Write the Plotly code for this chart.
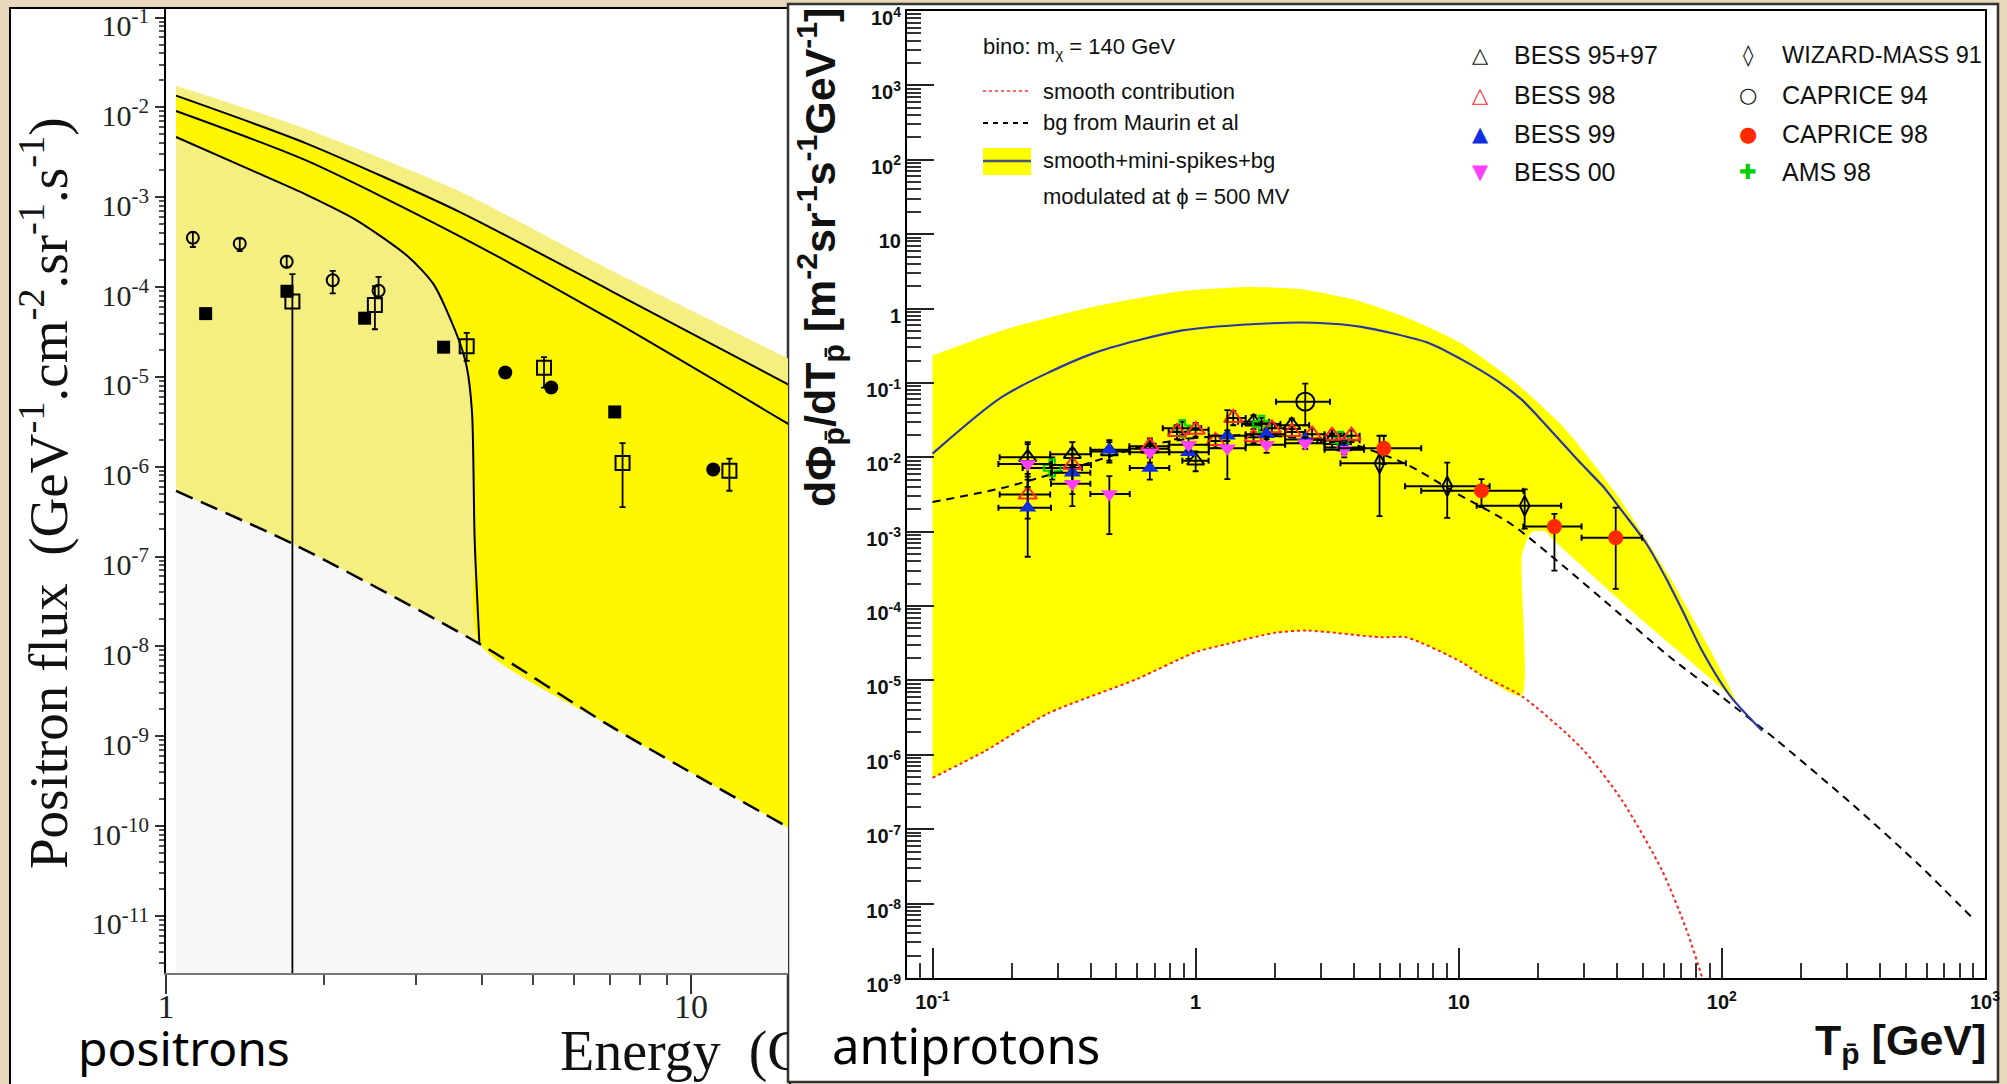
import plotly.graph_objects as go

W, H = 2007, 1084


def px(x):
    return x / W


def py(y):
    return 1 - y / H


# ================= POSITRONS (left panel) =================
pos_top_E = [1.045, 1.849, 3.614, 7.079, 15.5]
pos_top_F = [1.74e-2, 5.75e-3, 1.17e-3, 1.51e-4, 1.55e-5]
pos_l1_E = [1.045, 1.849, 3.614, 7.079, 15.5]
pos_l1_F = [1.35e-2, 3.98e-3, 6.92e-4, 8.91e-5, 7.94e-6]
pos_l2_E = [1.045, 1.849, 3.614, 7.079, 15.5]
pos_l2_F = [9.12e-3, 2.57e-3, 3.72e-4, 4.27e-5, 2.88e-6]
pos_l3_E = [1.045, 1.479, 1.849, 2.312, 2.891, 3.236, 3.614, 3.741, 3.828, 3.873, 3.954]
pos_l3_F = [4.68e-3, 1.91e-3, 1.07e-3, 5.5e-4, 2.19e-4, 1.07e-4, 2.57e-5, 1.29e-5, 4.07e-6, 1.55e-7, 1.1e-8]
pos_bg_E = [1.045, 1.746, 3.954, 7.079, 15.5]
pos_bg_F = [5.37e-7, 1.38e-7, 1.07e-8, 1.26e-9, 9.33e-11]
POS_FLOOR = 1e-12

# data points
pos_oc_E = [1.125, 1.382, 1.698, 2.078, 2.541]
pos_oc_F = [3.53e-4, 3.04e-4, 1.91e-4, 1.19e-4, 9.1e-5]
pos_oc_Fhi = [4.07e-4, 3.47e-4, 2.19e-4, 1.51e-4, 1.30e-4]
pos_oc_Flo = [2.79e-4, 2.51e-4, 1.66e-4, 8.5e-5, 7.5e-5]

pos_fs_E = [1.19, 1.70, 2.39, 3.38, 7.16]
pos_fs_F = [5.06e-5, 8.97e-5, 4.5e-5, 2.14e-5, 4.07e-6]
pos_fc_E = [4.43, 5.42, 11.03]
pos_fc_F = [1.12e-5, 7.6e-6, 9.3e-7]

pos_os_E = [1.741, 2.50, 3.74, 5.25, 7.41, 11.84]
pos_os_F = [6.9e-5, 6.3e-5, 2.19e-5, 1.26e-5, 1.1e-6, 9.0e-7]
pos_os_Fhi = [1.39e-4, 1.02e-4, 3.09e-5, 1.66e-5, 1.83e-6, 1.23e-6]
pos_os_Flo = [1e-13, 3.39e-5, 1.51e-5, 7.6e-6, 3.55e-7, 5.4e-7]

pos_ytick_vals = [1e-1, 1e-2, 1e-3, 1e-4, 1e-5, 1e-6, 1e-7, 1e-8, 1e-9, 1e-10, 1e-11]
pos_ytick_text = ["10<sup>-%d</sup>" % k for k in range(1, 12)]
pos_xtick_vals = [1, 10]
pos_xtick_text = ["1", "10"]

# ================= ANTIPROTONS (right panel) =================
ap_band_top_T = [0.1, 0.185, 0.405, 0.889, 1.585, 2.512, 3.981, 6.31, 10.0, 15.85, 25.12, 39.81, 63.1, 89.1, 107.2, 115.3]
ap_band_top_F = [0.234, 0.513, 1.047, 1.72, 1.95, 1.82, 1.32, 0.76, 0.355, 0.112, 2.5e-2, 3.16e-3, 2.5e-4, 2.8e-5, 7.9e-6, 4.5e-6]
ap_band_bot_T = [17.4, 19.0, 21.4, 22.9, 49.7, 107.4, 115.3]
ap_band_bot_F = [5.0e-4, 1.0e-3, 1.0e-3, 7.8e-4, 6.5e-5, 6.2e-6, 4.5e-6]

ap_smooth_T = [0.1, 0.158, 0.274, 0.6, 1.0, 1.315, 2.0, 2.66, 5.06, 6.31, 10.2, 12.2, 17.3, 29.3, 41.7, 59.2, 73.1, 84.1, 89.1]
ap_smooth_F = [4.9e-7, 1.12e-6, 3.58e-6, 1.05e-5, 2.4e-5, 3.09e-5, 4.37e-5, 4.68e-5, 3.8e-5, 3.8e-5, 1.78e-5, 1.17e-5, 6.2e-6, 1.23e-6, 2.45e-7, 2.8e-8, 4.6e-9, 1.02e-9, 5e-10]

ap_bg_T = [0.1, 0.186, 0.275, 0.398, 0.631, 1.0, 1.585, 2.512, 3.981, 6.31, 10.0, 15.85, 25.12, 39.81, 63.1, 100.0, 158.5, 316.2, 562.3, 912.0]
ap_bg_F = [2.5e-3, 3.9e-3, 5.75e-3, 8.5e-3, 1.41e-2, 1.82e-2, 2.0e-2, 1.82e-2, 1.48e-2, 8.1e-3, 3.16e-3, 1.26e-3, 3.4e-4, 8.5e-5, 2.1e-5, 6.0e-6, 1.66e-6, 2.1e-7, 3.3e-8, 6.0e-9]

ap_tot_T = [0.1, 0.185, 0.405, 0.889, 1.945, 2.818, 4.266, 7.674, 10.2, 14.1, 17.3, 20.0, 29.3, 35.5, 41.7, 51.4, 61.2, 70.8, 84.1, 107.4, 142.2]
ap_tot_F = [1.12e-2, 6.6e-2, 0.248, 0.508, 0.635, 0.645, 0.568, 0.345, 0.209, 0.105, 6.0e-2, 3.55e-2, 8.1e-3, 3.98e-3, 1.9e-3, 7.1e-4, 2.4e-4, 8.7e-5, 2.5e-5, 6.2e-6, 2.1e-6]

BESS_T = [0.23, 0.34, 0.47, 0.67, 0.94, 1.32, 1.86, 2.61, 3.67]
BESS_T_lo = [0.178, 0.282, 0.398, 0.562, 0.794, 1.122, 1.549, 2.188, 3.09]
BESS_T_hi = [0.282, 0.398, 0.562, 0.794, 1.122, 1.549, 2.188, 3.09, 4.365]

b99_F = [2.1e-3, 6.2e-3, 1.26e-2, 7.2e-3, 1.17e-2, 1.95e-2, 2.04e-2, 1.74e-2, 1.35e-2]
b99_Fhi = [5.0e-3, 1.1e-2, 1.7e-2, 1.0e-2, 1.45e-2, 2.3e-2, 2.4e-2, 2.05e-2, 1.65e-2]
b99_Flo = [4.6e-4, 3.2e-3, 9.0e-3, 5.0e-3, 9.5e-3, 1.65e-2, 1.75e-2, 1.45e-2, 1.1e-2]

b00_F = [8.1e-3, 4.4e-3, 3.2e-3, 1.17e-2, 1.48e-2, 1.32e-2, 1.48e-2, 1.55e-2, 1.26e-2]
b00_Fhi = [1.5e-2, 7.5e-3, 5.6e-3, 1.5e-2, 1.8e-2, 4.3e-2, 1.9e-2, 1.85e-2, 1.55e-2]
b00_Flo = [4.0e-3, 2.2e-3, 9.3e-4, 8.5e-3, 1.2e-2, 5.1e-3, 1.15e-2, 1.3e-2, 1.0e-2]

b98_T = [0.23, 0.34, 0.67, 0.85, 1.0, 1.19, 1.39, 1.66, 1.95, 2.32, 2.77, 3.3, 3.91]
b98_T_lo = [0.18, 0.28, 0.56, 0.79, 0.94, 1.12, 1.32, 1.55, 1.86, 2.19, 2.61, 3.09, 3.67]
b98_T_hi = [0.28, 0.40, 0.79, 0.94, 1.12, 1.32, 1.55, 1.86, 2.19, 2.61, 3.09, 3.67, 4.2]
b98_F = [3.16e-3, 7.9e-3, 1.41e-2, 2.19e-2, 2.34e-2, 1.66e-2, 3.39e-2, 1.86e-2, 2.45e-2, 2.19e-2, 2.04e-2, 1.95e-2, 1.95e-2]
b98_Fhi = [6.0e-3, 1.3e-2, 1.8e-2, 2.7e-2, 2.9e-2, 2.0e-2, 4.2e-2, 2.2e-2, 2.9e-2, 2.6e-2, 2.4e-2, 2.3e-2, 2.3e-2]
b98_Flo = [1.5e-3, 4.5e-3, 1.1e-2, 1.75e-2, 1.9e-2, 1.35e-2, 2.7e-2, 1.55e-2, 2.0e-2, 1.85e-2, 1.7e-2, 1.6e-2, 1.6e-2]

b9597_T = [0.23, 0.34, 0.47, 0.67, 1.0, 1.66, 2.32, 3.3]
b9597_T_lo = [0.18, 0.28, 0.40, 0.56, 0.89, 1.45, 2.0, 2.9]
b9597_T_hi = [0.28, 0.40, 0.56, 0.79, 1.12, 1.9, 2.7, 3.8]
b9597_F = [1.0e-2, 1.1e-2, 1.2e-2, 1.3e-2, 9.0e-3, 3.0e-2, 2.7e-2, 1.7e-2]
b9597_Fhi = [1.6e-2, 1.6e-2, 1.6e-2, 1.7e-2, 1.2e-2, 3.7e-2, 3.3e-2, 2.1e-2]
b9597_Flo = [5.5e-3, 6.5e-3, 8.5e-3, 1.0e-2, 6.5e-3, 2.4e-2, 2.2e-2, 1.35e-2]

ams_T = [0.285, 0.89, 1.78, 3.55]
ams_T_lo = [0.22, 0.75, 1.5, 3.0]
ams_T_hi = [0.37, 1.05, 2.1, 4.2]
ams_F = [7.2e-3, 2.45e-2, 2.8e-2, 1.7e-2]
ams_Fhi = [1.0e-2, 3.0e-2, 3.4e-2, 2.1e-2]
ams_Flo = [5.0e-3, 2.0e-2, 2.3e-2, 1.4e-2]

wiz_T = [5.0, 9.04, 17.8]
wiz_T_lo = [3.55, 6.25, 11.7]
wiz_T_hi = [6.3, 13.1, 24.5]
wiz_F = [8.3e-3, 4.07e-3, 2.24e-3]
wiz_Fhi = [1.95e-2, 8.5e-3, 3.7e-3]
wiz_Flo = [1.62e-3, 1.53e-3, 1.1e-3]

c94_T = [2.61]
c94_T_lo = [2.02]
c94_T_hi = [3.24]
c94_F = [5.6e-2]
c94_Fhi = [9.8e-2]
c94_Flo = [2.7e-2]

c98_T = [5.19, 12.2, 23.1, 39.5]
c98_T_lo = [3.5, 7.2, 17.6, 29.3]
c98_T_hi = [7.2, 17.6, 29.3, 49.7]
c98_F = [1.32e-2, 3.55e-3, 1.17e-3, 8.3e-4]
c98_Fhi = [1.95e-2, 5.1e-3, 1.74e-3, 2.1e-3]
c98_Flo = [8.1e-3, 2.14e-3, 3.0e-4, 1.7e-4]

ap_xtick_vals = [0.1, 1, 10, 100, 1000]
ap_xtick_text = ["10<sup>-1</sup>", "1", "10", "10<sup>2</sup>", "10<sup>3</sup>"]
ap_ytick_vals = [1e4, 1e3, 1e2, 10, 1, 1e-1, 1e-2, 1e-3, 1e-4, 1e-5, 1e-6, 1e-7, 1e-8, 1e-9]
ap_ytick_text = ["10<sup>4</sup>", "10<sup>3</sup>", "10<sup>2</sup>", "10", "1"] + ["10<sup>-%d</sup>" % k for k in range(1, 10)]

# ---------------------------------------------------------------
fig = go.Figure()
SPL = dict(shape="spline", smoothing=0.7)


def band(xa, ya, xb, yb, color, axes=("x", "y"), smoothing=0.7):
    """fill between lower curve (a) and upper curve (b)"""
    fig.add_trace(go.Scatter(x=xa, y=ya, mode="lines", line=dict(width=0, shape="spline", smoothing=smoothing),
                             xaxis=axes[0], yaxis=axes[1], hoverinfo="skip"))
    fig.add_trace(go.Scatter(x=xb, y=yb, mode="lines", fill="tonexty", fillcolor=color,
                             line=dict(width=0, shape="spline", smoothing=smoothing),
                             xaxis=axes[0], yaxis=axes[1], hoverinfo="skip"))


# ---- left panel fills
band([pos_bg_E[0], pos_bg_E[-1]], [POS_FLOOR, POS_FLOOR], pos_bg_E, pos_bg_F, "#f7f7f7")
band(pos_bg_E, pos_bg_F, pos_top_E, pos_top_F, "#f5ee80")
cutE = pos_l3_E[-1]
bg_after = [(e, f) for e, f in zip(pos_bg_E, pos_bg_F) if e > cutE]
band(pos_l3_E + [e for e, f in bg_after], pos_l3_F + [f for e, f in bg_after],
     pos_l1_E, pos_l1_F, "#fff700")

# ---- left panel lines
for E_, F_ in [(pos_l1_E, pos_l1_F), (pos_l2_E, pos_l2_F), (pos_l3_E, pos_l3_F)]:
    fig.add_trace(go.Scatter(x=E_, y=F_, mode="lines", line=dict(color="black", width=2, **SPL),
                             xaxis="x", yaxis="y", hoverinfo="skip"))
fig.add_trace(go.Scatter(x=pos_bg_E, y=pos_bg_F, mode="lines",
                         line=dict(color="black", width=2.5, dash="18px,9px", **SPL),
                         xaxis="x", yaxis="y", hoverinfo="skip"))


def errs(F, Fhi, Flo):
    return dict(type="data", symmetric=False,
                array=[h - f for f, h in zip(F, Fhi)],
                arrayminus=[f - l for f, l in zip(F, Flo)],
                color="black", thickness=1.8, width=3)


fig.add_trace(go.Scatter(x=pos_oc_E, y=pos_oc_F, mode="markers",
                         marker=dict(symbol="circle-open", size=12, color="black", line=dict(width=2)),
                         error_y=errs(pos_oc_F, pos_oc_Fhi, pos_oc_Flo),
                         xaxis="x", yaxis="y", hoverinfo="skip"))
fig.add_trace(go.Scatter(x=pos_os_E, y=pos_os_F, mode="markers",
                         marker=dict(symbol="square-open", size=14, color="black", line=dict(width=2)),
                         error_y=errs(pos_os_F, pos_os_Fhi, pos_os_Flo),
                         xaxis="x", yaxis="y", hoverinfo="skip"))
fig.add_trace(go.Scatter(x=pos_fs_E, y=pos_fs_F, mode="markers",
                         marker=dict(symbol="square", size=13, color="black"),
                         xaxis="x", yaxis="y", hoverinfo="skip"))
fig.add_trace(go.Scatter(x=pos_fc_E, y=pos_fc_F, mode="markers",
                         marker=dict(symbol="circle", size=14, color="black"),
                         xaxis="x", yaxis="y", hoverinfo="skip"))

# ---- left x title (cut by the right panel edge as in the original)
fig.add_trace(go.Scatter(x=[0], y=[0.5], mode="text", text=["Energy  (G"],
                         textposition="middle right", cliponaxis=True,
                         textfont=dict(family="Liberation Serif", size=56, color="#111"),
                         xaxis="x3", yaxis="y3", hoverinfo="skip"))

# ---- right panel band
nS = ap_smooth_T.index(17.3) + 1
band(ap_smooth_T[:nS] + ap_band_bot_T, ap_smooth_F[:nS] + ap_band_bot_F,
     ap_band_top_T, ap_band_top_F, "#ffff00", axes=("x2", "y2"), smoothing=0.6)

fig.add_trace(go.Scatter(x=ap_smooth_T, y=ap_smooth_F, mode="lines",
                         line=dict(color="#ff2020", width=2, dash="dot", **SPL),
                         xaxis="x2", yaxis="y2", hoverinfo="skip"))
fig.add_trace(go.Scatter(x=ap_bg_T, y=ap_bg_F, mode="lines",
                         line=dict(color="black", width=2, dash="8px,6px", **SPL),
                         xaxis="x2", yaxis="y2", hoverinfo="skip"))
fig.add_trace(go.Scatter(x=ap_tot_T, y=ap_tot_F, mode="lines",
                         line=dict(color="#2838a0", width=2.2, **SPL),
                         xaxis="x2", yaxis="y2", hoverinfo="skip"))


def ap_series(T, Tlo, Thi, F, Flo, Fhi, symbol, color, size, lw=2):
    fig.add_trace(go.Scatter(
        x=T, y=F, mode="markers",
        marker=dict(symbol=symbol, size=size, color=color, line=dict(width=lw, color=color)),
        error_x=dict(type="data", symmetric=False,
                     array=[h - t for t, h in zip(T, Thi)],
                     arrayminus=[t - l for t, l in zip(T, Tlo)],
                     color="black", thickness=2, width=3),
        error_y=dict(type="data", symmetric=False,
                     array=[h - f for f, h in zip(F, Fhi)],
                     arrayminus=[f - l for f, l in zip(F, Flo)],
                     color="black", thickness=1.8, width=3),
        xaxis="x2", yaxis="y2", hoverinfo="skip"))


ap_series(wiz_T, wiz_T_lo, wiz_T_hi, wiz_F, wiz_Flo, wiz_Fhi, "diamond-tall-open", "black", 14)
ap_series(c94_T, c94_T_lo, c94_T_hi, c94_F, c94_Flo, c94_Fhi, "circle-open", "black", 18)
ap_series(b9597_T, b9597_T_lo, b9597_T_hi, b9597_F, b9597_Flo, b9597_Fhi, "triangle-up-open", "black", 15)
ap_series(ams_T, ams_T_lo, ams_T_hi, ams_F, ams_Flo, ams_Fhi, "cross-open", "#00d000", 14)
ap_series(b98_T, b98_T_lo, b98_T_hi, b98_F, b98_Flo, b98_Fhi, "triangle-up-open", "#ff2a2a", 16)
ap_series(BESS_T, BESS_T_lo, BESS_T_hi, b99_F, b99_Flo, b99_Fhi, "triangle-up", "#1030e0", 15, 0)
ap_series(BESS_T, BESS_T_lo, BESS_T_hi, b00_F, b00_Flo, b00_Fhi, "triangle-down", "#ff40ff", 15, 0)
ap_series(c98_T, c98_T_lo, c98_T_hi, c98_F, c98_Flo, c98_Fhi, "circle", "#ff2a00", 15, 0)

# ---------------------------------------------------------------
shapes = []
shapes.append(dict(type="rect", xref="paper", yref="paper", x0=px(10), x1=px(790), y0=py(1090), y1=py(8),
                   fillcolor="white", line=dict(color="black", width=2), layer="below"))
shapes.append(dict(type="rect", xref="paper", yref="paper", x0=px(788), x1=px(1998), y0=py(1082), y1=py(4),
                   fillcolor="white", line=dict(color="#333", width=2.5), layer="below"))
shapes.append(dict(type="line", xref="paper", yref="paper", x0=px(983), x1=px(1030), y0=py(91), y1=py(91),
                   line=dict(color="#ff3030", width=1.6, dash="dot")))
shapes.append(dict(type="line", xref="paper", yref="paper", x0=px(983), x1=px(1030), y0=py(123), y1=py(123),
                   line=dict(color="black", width=2, dash="5px,5px")))
shapes.append(dict(type="rect", xref="paper", yref="paper", x0=px(983), x1=px(1031), y0=py(175), y1=py(148),
                   fillcolor="#ffff00", line=dict(width=0)))
shapes.append(dict(type="line", xref="paper", yref="paper", x0=px(983), x1=px(1031), y0=py(161), y1=py(161),
                   line=dict(color="#445577", width=2.5)))

ann = []
LF = "Liberation Sans, Arial, sans-serif"
legL = [("bino: m<sub>χ</sub> = 140 GeV", 981, 48),
        ("smooth contribution", 1041, 91),
        ("bg from Maurin et al", 1041, 123),
        ("smooth+mini-spikes+bg", 1041, 161),
        ("modulated at ϕ = 500 MV", 1041, 196)]
for t, x, y in legL:
    ann.append(dict(text=t, x=px(x), y=py(y), xref="paper", yref="paper", xanchor="left", yanchor="middle",
                    showarrow=False, font=dict(family=LF, size=22, color="#111")))

legR = [("△", "#111", "BESS 95+97", 1480, 1512, 55),
        ("△", "#ff2a2a", "BESS 98", 1480, 1512, 95),
        ("▲", "#1030e0", "BESS 99", 1480, 1512, 134),
        ("▼", "#ff40ff", "BESS 00", 1480, 1512, 172),
        ("◊", "#111", "WIZARD-MASS 91", 1748, 1780, 55),
        ("○", "#111", "CAPRICE 94", 1748, 1780, 95),
        ("●", "#ff2a00", "CAPRICE 98", 1748, 1780, 134),
        ("✚", "#00d000", "AMS 98", 1748, 1780, 172)]
for sym, col, t, xs, xt, y in legR:
    ann.append(dict(text=sym, x=px(xs), y=py(y), xref="paper", yref="paper", xanchor="center", yanchor="middle",
                    showarrow=False, font=dict(family="DejaVu Sans", size=21, color=col)))
    ann.append(dict(text=t, x=px(xt), y=py(y), xref="paper", yref="paper", xanchor="left", yanchor="middle",
                    showarrow=False, font=dict(family=LF, size=25 if "WIZ" not in t else 23.5, color="#111")))

ann.append(dict(text="<b>dΦ<sub>p̄</sub>/dT<sub>p̄</sub> [m<sup>-2</sup>sr<sup>-1</sup>s<sup>-1</sup>GeV<sup>-1</sup>]</b>",
                x=px(820), y=py(258), xref="paper", yref="paper", textangle=-90, showarrow=False,
                xanchor="center", yanchor="middle", font=dict(family=LF, size=43, color="#111")))
ann.append(dict(text="<b>T<sub>p̄</sub> [GeV]</b>", x=px(1988), y=py(1043), xref="paper", yref="paper",
                xanchor="right", yanchor="middle", showarrow=False, font=dict(family=LF, size=43, color="#111")))
ann.append(dict(text="Positron flux  (GeV<sup>-1</sup>.cm<sup>-2</sup>.sr<sup>-1</sup>.s<sup>-1</sup>)",
                x=px(44), y=py(493), xref="paper", yref="paper", textangle=-90, showarrow=False,
                xanchor="center", yanchor="middle", font=dict(family="Liberation Serif", size=55, color="#111")))
ann.append(dict(text="positrons", x=px(76), y=py(1047), xref="paper", yref="paper", xanchor="left",
                yanchor="middle", showarrow=False, font=dict(family="Comic Sans MS, Noto Sans", size=48, color="black")))
ann.append(dict(text="antiprotons", x=px(830), y=py(1045), xref="paper", yref="paper", xanchor="left",
                yanchor="middle", showarrow=False, font=dict(family="Comic Sans MS, Noto Sans", size=49, color="black")))

decades_pos = [10.0 ** k for k in range(-12, 0)]
minor_pos_y = [m * d for d in decades_pos for m in range(2, 10)]
minor_pos_x = [m for m in range(2, 10)] + [10 * m for m in range(2, 10)]
decades_ap = [10.0 ** k for k in range(-10, 5)]
minor_ap_y = [m * d for d in decades_ap for m in range(2, 10)]
minor_ap_x = [m * d for d in [0.01, 0.1, 1, 10, 100] for m in range(2, 10)]

fig.update_layout(
    width=W, height=H, margin=dict(l=0, r=0, t=0, b=0, autoexpand=False),
    paper_bgcolor="#e8d9bc", plot_bgcolor="rgba(0,0,0,0)", showlegend=False,
    shapes=shapes, annotations=ann,
    xaxis=dict(type="log", domain=[px(166), px(788)], range=[0, 1.185], anchor="y", automargin=False,
               showgrid=False, zeroline=False, showline=True, linecolor="#777", linewidth=2,
               ticks="outside", ticklen=19, tickwidth=2, tickcolor="#333", ticklabelstandoff=-17,
               tickmode="array", tickvals=pos_xtick_vals, ticktext=pos_xtick_text,
               tickfont=dict(family="Liberation Serif", size=34, color="#222"),
               minor=dict(ticks="outside", ticklen=10, tickwidth=2, tickcolor="#444",
                          tickmode="array", tickvals=minor_pos_x)),
    yaxis=dict(type="log", domain=[py(973), py(9)], range=[-11.636, -0.905], anchor="x", automargin=False,
               showgrid=False, zeroline=False, showline=True, linecolor="black", linewidth=2,
               ticks="outside", ticklen=9, tickwidth=2, tickcolor="#333", ticklabeloverflow="allow",
               ticklabelshift=8,
               tickmode="array", tickvals=pos_ytick_vals, ticktext=pos_ytick_text,
               tickfont=dict(family="Liberation Serif", size=30, color="#222"),
               minor=dict(ticks="outside", ticklen=5, tickwidth=1.5, tickcolor="#555",
                          tickmode="array", tickvals=minor_pos_y)),
    xaxis2=dict(type="log", domain=[px(907), px(1985)], range=[-1.097, 3.0], anchor="y2", automargin=False,
                showgrid=False, zeroline=False, showline=True, linecolor="black", linewidth=2, mirror=True,
                ticks="inside", ticklen=30, tickwidth=2, tickcolor="#222", ticklabeloverflow="allow",
                ticklabelstandoff=5,
                tickmode="array", tickvals=ap_xtick_vals, ticktext=ap_xtick_text,
                tickfont=dict(family=LF, size=20, color="#111", weight="bold"),
                minor=dict(ticks="inside", ticklen=15, tickwidth=2, tickcolor="#333",
                           tickmode="array", tickvals=minor_ap_x)),
    yaxis2=dict(type="log", domain=[py(978), py(11)], range=[-9.001, 4.001], anchor="x2", automargin=False,
                showgrid=False, zeroline=False, showline=True, linecolor="black", linewidth=2, mirror=True,
                ticks="inside", ticklen=27, tickwidth=2, tickcolor="#222", ticklabeloverflow="allow",
                ticklabelshift=7,
                tickmode="array", tickvals=ap_ytick_vals, ticktext=ap_ytick_text,
                tickfont=dict(family=LF, size=20, color="#111", weight="bold"),
                minor=dict(ticks="inside", ticklen=14, tickwidth=2, tickcolor="#333",
                           tickmode="array", tickvals=minor_ap_y)),
    xaxis3=dict(domain=[px(560), px(788)], range=[0, 1], visible=False, fixedrange=True, anchor="y3",
                automargin=False),
    yaxis3=dict(domain=[py(1084), py(1028)], range=[0, 1], visible=False, fixedrange=True, anchor="x3",
                automargin=False),
)

fig.write_html("out.html")
